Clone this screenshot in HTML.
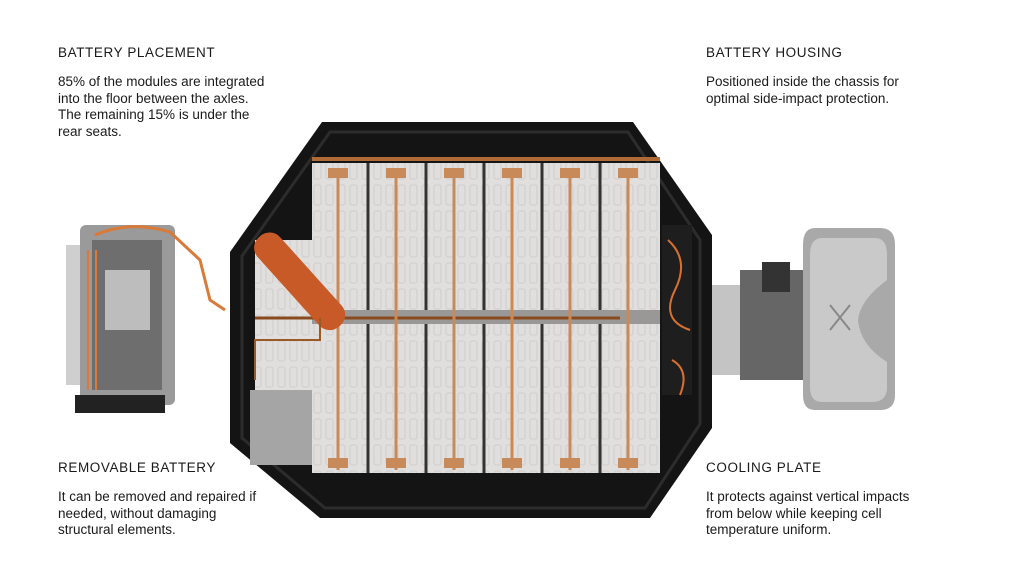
<!DOCTYPE html>
<html><head><style>
body{margin:0;width:1024px;height:583px;background:#fff;position:relative;overflow:hidden;font-family:"Liberation Sans",sans-serif;color:#1a1a1a}
.t{position:absolute;font-size:13.5px;letter-spacing:0.6px}
.b{position:absolute;font-size:13.5px;line-height:16.5px}
svg{position:absolute;left:0;top:0}
</style></head><body>
<svg width="1024" height="583" viewBox="0 0 1024 583">
<defs>
<pattern id="cell" width="12" height="26" patternUnits="userSpaceOnUse">
<rect width="12" height="26" fill="#e0dfdd"/><rect x="2" y="3" width="7" height="20" rx="2" fill="none" stroke="#cfcecc" stroke-width="1"/>
</pattern>
</defs>
<!-- left motor -->
<rect x="66" y="245" width="22" height="140" fill="#cfcfcf"/>
<rect x="80" y="225" width="95" height="180" rx="6" fill="#9a9a9a"/>
<rect x="92" y="240" width="70" height="150" fill="#6e6e6e"/>
<rect x="105" y="270" width="45" height="60" fill="#bdbdbd"/>
<rect x="75" y="395" width="90" height="18" fill="#222"/>
<path d="M95 235 Q130 220 170 232 L200 260 L210 300 L225 310" stroke="#d87a3a" stroke-width="3" fill="none"/>
<path d="M88 250 V390 M96 250 V390" stroke="#d87a3a" stroke-width="2" fill="none"/>
<!-- right motor and tank -->
<rect x="706" y="285" width="60" height="90" fill="#c4c4c4"/>
<rect x="740" y="270" width="70" height="110" fill="#666"/>
<rect x="762" y="262" width="28" height="30" fill="#333"/>
<path d="M815 228 H880 Q895 228 895 245 V395 Q895 410 880 410 H815 Q803 410 803 395 V245 Q803 228 815 228Z" fill="#a9a9a9"/>
<path d="M822 238 H875 Q887 238 887 255 V280 Q860 300 858 320 Q860 345 887 362 V387 Q887 402 872 402 H822 Q810 402 810 387 V255 Q810 238 822 238Z" fill="#c9c9c9"/>
<path d="M830 305 L850 330 M850 305 L830 330" stroke="#888" stroke-width="2"/>
<!-- frame -->
<path d="M322 122 L633 122 L712 235 L712 428 L650 518 L320 518 L230 443 L230 252 Z" fill="#141414"/>
<path d="M330 132 L628 132 L700 240 L700 424 L645 508 L325 508 L242 438 L242 256 Z" fill="none" stroke="#2c2c2c" stroke-width="3"/>
<rect x="255" y="240" width="60" height="150" fill="url(#cell)"/>
<rect x="250" y="390" width="62" height="75" fill="#a5a5a5"/>
<rect x="312" y="157" width="348" height="4" fill="#b06a35"/>
<rect x="312" y="163" width="348" height="310" fill="url(#cell)"/>
<g stroke="#333" stroke-width="3">
<line x1="368" y1="163" x2="368" y2="473"/><line x1="426" y1="163" x2="426" y2="473"/><line x1="484" y1="163" x2="484" y2="473"/><line x1="542" y1="163" x2="542" y2="473"/><line x1="600" y1="163" x2="600" y2="473"/>
</g>
<rect x="312" y="310" width="348" height="14" fill="#9a9896"/>
<line x1="255" y1="318" x2="620" y2="318" stroke="#8a4a1f" stroke-width="3"/>
<g stroke="#c98a5a" stroke-width="3" fill="none">
<line x1="338" y1="170" x2="338" y2="470"/><line x1="396" y1="170" x2="396" y2="470"/><line x1="454" y1="170" x2="454" y2="470"/><line x1="512" y1="170" x2="512" y2="470"/><line x1="570" y1="170" x2="570" y2="470"/><line x1="628" y1="170" x2="628" y2="470"/>
</g>
<g fill="#c98a5a">
<rect x="328" y="168" width="20" height="10"/><rect x="386" y="168" width="20" height="10"/><rect x="444" y="168" width="20" height="10"/><rect x="502" y="168" width="20" height="10"/><rect x="560" y="168" width="20" height="10"/><rect x="618" y="168" width="20" height="10"/>
<rect x="328" y="458" width="20" height="10"/><rect x="386" y="458" width="20" height="10"/><rect x="444" y="458" width="20" height="10"/><rect x="502" y="458" width="20" height="10"/><rect x="560" y="458" width="20" height="10"/><rect x="618" y="458" width="20" height="10"/>
</g>
<rect x="230" y="262" width="120" height="30" rx="14" fill="#c85a28" transform="rotate(48 290 290)"/>
<path d="M255 380 V340 H320 V318" stroke="#9a5a25" stroke-width="2" fill="none"/>
<rect x="662" y="225" width="30" height="170" fill="#1e1e1e"/>
<path d="M668 240 Q690 260 675 290 T690 330 M672 360 Q690 370 680 395" stroke="#d8702f" stroke-width="2" fill="none"/>
</svg>
<div class="t" style="left:58px;top:45px">BATTERY PLACEMENT</div>
<div class="b" style="left:58px;top:74px">85% of the modules are integrated<br>into the floor between the axles.<br>The remaining 15% is under the<br>rear seats.</div>
<div class="t" style="left:706px;top:45px">BATTERY HOUSING</div>
<div class="b" style="left:706px;top:74px">Positioned inside the chassis for<br>optimal side-impact protection.</div>
<div class="t" style="left:58px;top:460px">REMOVABLE BATTERY</div>
<div class="b" style="left:58px;top:489px">It can be removed and repaired if<br>needed, without damaging<br>structural elements.</div>
<div class="t" style="left:706px;top:460px">COOLING PLATE</div>
<div class="b" style="left:706px;top:489px">It protects against vertical impacts<br>from below while keeping cell<br>temperature uniform.</div>
</body></html>
